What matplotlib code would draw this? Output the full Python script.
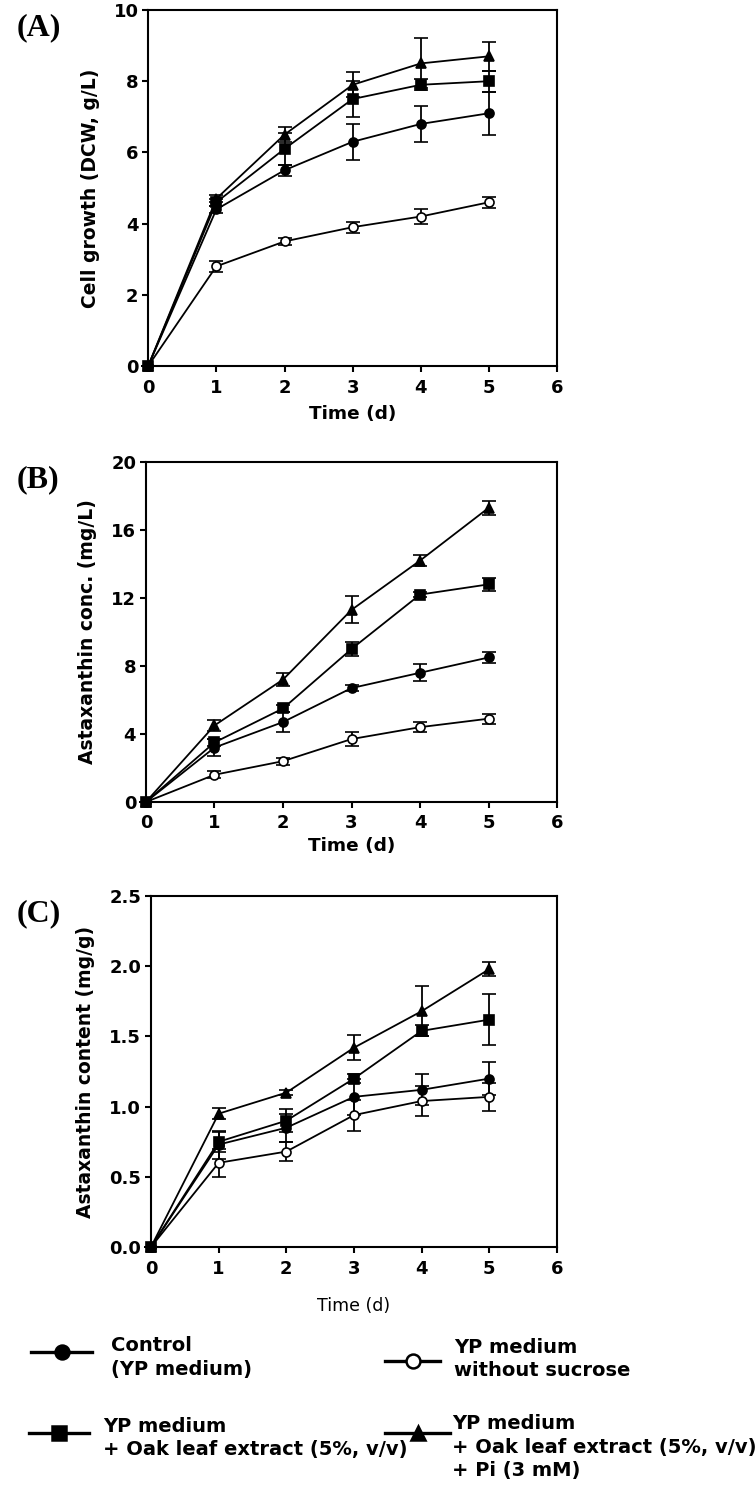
import matplotlib.pyplot as plt
from matplotlib.lines import Line2D
import numpy as np

days = [0, 1, 2, 3, 4, 5]

# (A) cell growth, DCW g/L
growth_ctrl = [0, 4.4, 5.5, 6.3, 6.8, 7.1]
growth_ctrl_err = [0, 0.1, 0.15, 0.5, 0.5, 0.6]
growth_nosuc = [0, 2.8, 3.5, 3.9, 4.2, 4.6]
growth_nosuc_err = [0, 0.15, 0.1, 0.15, 0.2, 0.15]
growth_oak = [0, 4.6, 6.1, 7.5, 7.9, 8.0]
growth_oak_err = [0, 0.1, 0.45, 0.5, 0.15, 0.3]
growth_oakpi = [0, 4.7, 6.5, 7.9, 8.5, 8.7]
growth_oakpi_err = [0, 0.1, 0.2, 0.35, 0.7, 0.4]

# (B) astaxanthin conc., mg/L
conc_ctrl = [0, 3.2, 4.7, 6.7, 7.6, 8.5]
conc_ctrl_err = [0, 0.5, 0.6, 0.2, 0.5, 0.3]
conc_nosuc = [0, 1.6, 2.4, 3.7, 4.4, 4.9]
conc_nosuc_err = [0, 0.2, 0.2, 0.4, 0.3, 0.3]
conc_oak = [0, 3.5, 5.5, 9.0, 12.2, 12.8]
conc_oak_err = [0, 0.2, 0.2, 0.4, 0.15, 0.4]
conc_oakpi = [0, 4.5, 7.2, 11.3, 14.2, 17.3]
conc_oakpi_err = [0, 0.3, 0.4, 0.8, 0.3, 0.4]

# (C) astaxanthin content, mg/g
cont_ctrl = [0, 0.73, 0.85, 1.07, 1.12, 1.20]
cont_ctrl_err = [0, 0.1, 0.1, 0.13, 0.11, 0.12]
cont_nosuc = [0, 0.60, 0.68, 0.94, 1.04, 1.07]
cont_nosuc_err = [0, 0.1, 0.07, 0.11, 0.11, 0.1]
cont_oak = [0, 0.75, 0.90, 1.20, 1.54, 1.62]
cont_oak_err = [0, 0.07, 0.08, 0.03, 0.04, 0.18]
cont_oakpi = [0, 0.95, 1.10, 1.42, 1.68, 1.98]
cont_oakpi_err = [0, 0.04, 0.02, 0.09, 0.18, 0.05]

legend_labels = ['Control\n(YP medium)',
                 'YP medium\nwithout sucrose',
                 'YP medium\n+ Oak leaf extract (5%, v/v)',
                 'YP medium\n+ Oak leaf extract (5%, v/v)\n+ Pi (3 mM)']

plt.rcParams['font.family'] = ['DejaVu Sans']

styles = [dict(marker='o', mfc='black'),
          dict(marker='o', mfc='white'),
          dict(marker='s', mfc='black'),
          dict(marker='^', mfc='black')]

fig = plt.figure(figsize=(7.56, 14.94), dpi=100)

panels = [
    ([0.196, 0.755, 0.541, 0.2383], '(A)', 'Cell growth (DCW, g/L)',
     [(growth_ctrl, growth_ctrl_err), (growth_nosuc, growth_nosuc_err),
      (growth_oak, growth_oak_err), (growth_oakpi, growth_oakpi_err)],
     (0, 10), np.arange(0, 11, 2), '%d', True, 6),
    ([0.193, 0.4632, 0.544, 0.2276], '(B)', 'Astaxanthin conc. (mg/L)',
     [(conc_ctrl, conc_ctrl_err), (conc_nosuc, conc_nosuc_err),
      (conc_oak, conc_oak_err), (conc_oakpi, conc_oakpi_err)],
     (0, 20), np.arange(0, 21, 4), '%d', True, 3),
    ([0.1997, 0.1653, 0.537, 0.2349], '(C)', 'Astaxanthin content (mg/g)',
     [(cont_ctrl, cont_ctrl_err), (cont_nosuc, cont_nosuc_err),
      (cont_oak, cont_oak_err), (cont_oakpi, cont_oakpi_err)],
     (0, 2.5), np.arange(0, 2.6, 0.5), '%.1f', False, 14),
]

for rect, tag, ylab, series, ylim, yticks, yfmt, boldx, xpad in panels:
    ax = fig.add_axes(rect)
    for (vals, errs), st in zip(series, styles):
        ax.errorbar(days, vals, yerr=errs, color='black', lw=1.3,
                    marker=st['marker'], mfc=st['mfc'], mec='black', mew=1.2,
                    ms=6.5, capsize=4.8, capthick=1.3, elinewidth=1.3,
                    clip_on=False, zorder=3)
    ax.set_xlim(0, 6)
    ax.set_ylim(*ylim)
    ax.set_xticks(range(7))
    ax.set_yticks(yticks)
    ax.set_yticklabels([yfmt % t for t in yticks])
    for s in ax.spines.values():
        s.set_linewidth(1.5)
    ax.tick_params(direction='out', length=4, width=1.5, labelsize=13, pad=3)
    ax.tick_params(axis='x', pad=5)
    for lbl in ax.get_xticklabels() + ax.get_yticklabels():
        lbl.set_fontweight('bold')
    ax.set_ylabel(ylab, fontsize=13.5, fontweight='bold', labelpad=10)
    if boldx:
        ax.set_xlabel('Time (d)', fontsize=13.3, fontweight='bold', labelpad=xpad)
    else:
        ax.set_xlabel('Time (d)', fontsize=12.5, labelpad=xpad)
    bb = ax.get_position()
    fig.text(0.022, bb.y1 - 0.002, tag, fontsize=23, fontweight='bold',
             family=['Liberation Serif', 'DejaVu Serif'], va='top', ha='left')

# legend block at the bottom, pixel coordinates from the top of that strip
lax = fig.add_axes([0, 0, 1, 0.11])
lax.set_xlim(0, 756)
lax.set_ylim(164.34, 0)
lax.axis('off')
top = 1494 - 164.34
handles = [(31, 92, 1352), (385, 440, 1361), (29, 89, 1433), (385, 450, 1433)]
texts = [(111, 1347), (454, 1349), (103, 1428), (452, 1425)]
for (x0, x1, y), (xt, yt), st, lab in zip(handles, texts, styles, legend_labels):
    lax.add_line(Line2D([x0, x1], [y - top, y - top], color='black', lw=2.4))
    lax.plot([(x0 + x1) / 2], [y - top], marker=st['marker'], mfc=st['mfc'],
             mec='black', mew=1.8, ms=10, color='black')
    lax.text(xt, yt - top - 11, lab, fontsize=14, fontweight='bold', va='top',
             ha='left', linespacing=1.3)

plt.savefig('out.png', dpi=100)
